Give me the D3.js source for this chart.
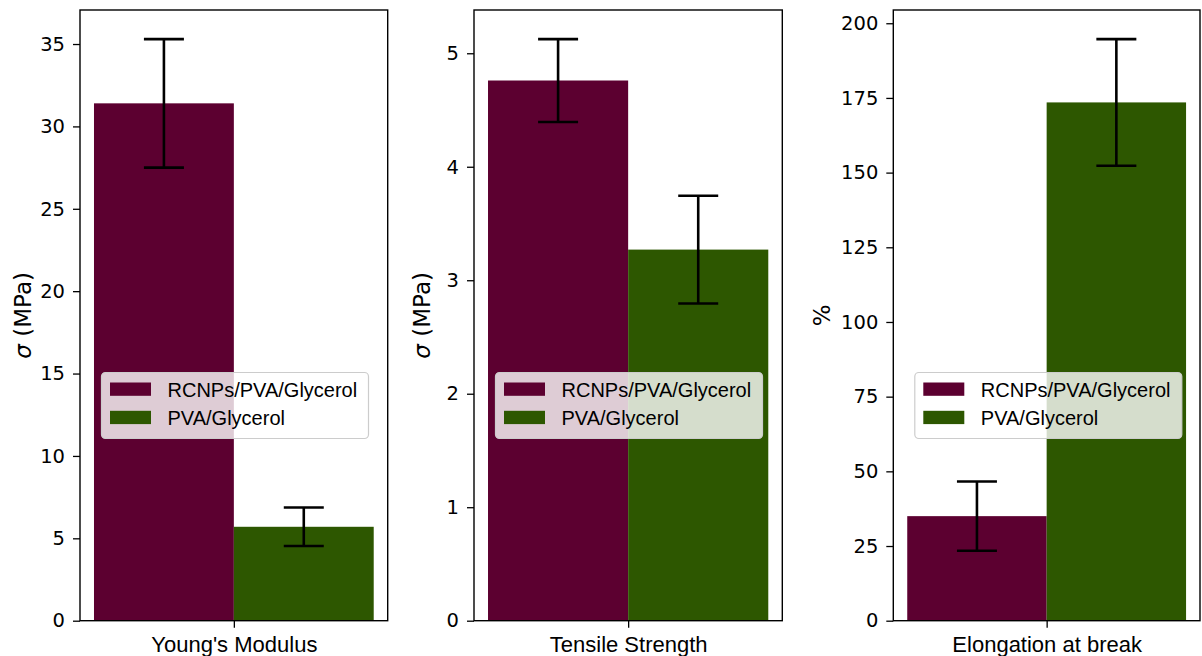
<!DOCTYPE html>
<html>
<head>
<meta charset="utf-8">
<script src="https://cdn.jsdelivr.net/npm/d3@7"></script>
<style>
html,body{margin:0;padding:0;background:#fff;}
svg{display:block;}
</style>
</head>
<body>
<svg id="chart" width="1202" height="656"></svg>
<script>
// ---- data ----
const series = ["RCNPs/PVA/Glycerol", "PVA/Glycerol"];
const colors = ["#5c0030", "#2d5700"];
const categories = ["Young's Modulus", "Tensile Strength", "Elongation at break"];
const yLabels = ["σ (MPa)", "σ (MPa)", "%"];
const youngValues = [31.4, 5.7];
const youngErrors = [3.9, 1.17];
const tensileValues = [4.76, 3.27];
const tensileErrors = [0.365, 0.475];
const elongValues = [35.0, 173.5];
const elongErrors = [11.6, 21.2];
const youngTicks = [0, 5, 10, 15, 20, 25, 30, 35];
const tensileTicks = [0, 1, 2, 3, 4, 5];
const elongTicks = [0, 25, 50, 75, 100, 125, 150, 175, 200];

const panels = [
  {values: youngValues, errors: youngErrors, ticks: youngTicks, left: 80, right: 387.7},
  {values: tensileValues, errors: tensileErrors, ticks: tensileTicks, left: 474, right: 782.3},
  {values: elongValues, errors: elongErrors, ticks: elongTicks, left: 893.3, right: 1200}
];
const plotTop = 10, plotBottom = 620.7;

const svg = d3.select("#chart");

panels.forEach((p, i) => {
  const g = svg.append("g");
  const ymax = d3.max(p.values.map((v, j) => v + p.errors[j])) * 1.05;
  const y = d3.scaleLinear().domain([0, ymax]).range([plotBottom, plotTop]);
  const x = d3.scaleBand().domain(series).range([p.left, p.right]).paddingInner(0).paddingOuter(0.1);

  // bars
  g.selectAll("rect.bar").data(series).enter().append("rect")
    .attr("class", "bar")
    .attr("x", d => x(d))
    .attr("width", x.bandwidth())
    .attr("y", (d, j) => y(p.values[j]))
    .attr("height", (d, j) => y(0) - y(p.values[j]))
    .attr("fill", (d, j) => colors[j]);

  // error bars
  const cap = 20;
  series.forEach((s, j) => {
    const cx = x(s) + x.bandwidth() / 2;
    const y1 = y(p.values[j] + p.errors[j]);
    const y0 = y(p.values[j] - p.errors[j]);
    const eg = g.append("g").attr("stroke", "#000").attr("stroke-width", 2.6);
    eg.append("line").attr("x1", cx).attr("x2", cx).attr("y1", y0).attr("y2", y1);
    eg.append("line").attr("x1", cx - cap).attr("x2", cx + cap).attr("y1", y1).attr("y2", y1);
    eg.append("line").attr("x1", cx - cap).attr("x2", cx + cap).attr("y1", y0).attr("y2", y0);
  });

  // y axis
  const ya = d3.axisLeft(y).tickValues(p.ticks).tickSize(7).tickPadding(8).tickFormat(d3.format("d"));
  const yg = g.append("g").attr("transform", `translate(${p.left},0)`).call(ya);
  yg.select(".domain").remove();
  yg.selectAll(".tick line").attr("stroke", "#000").attr("stroke-width", 1.3);
  yg.selectAll(".tick text").attr("font-family", "DejaVu Sans").attr("font-size", 19.5).attr("fill", "#000");

  // x axis (single centred category tick)
  const xc = d3.scalePoint().domain([categories[i]]).range([(p.left + p.right) / 2, (p.left + p.right) / 2]);
  const xa = d3.axisBottom(xc).tickSize(7).tickPadding(8);
  const xg = g.append("g").attr("transform", `translate(0,${plotBottom})`).call(xa);
  xg.select(".domain").remove();
  xg.selectAll(".tick line").attr("stroke", "#000").attr("stroke-width", 1.3);
  xg.selectAll(".tick text").attr("font-family", "Liberation Sans").attr("font-size", 22).attr("fill", "#000")
    .attr("dy", null).attr("y", 31);

  // frame
  g.append("rect").attr("x", p.left).attr("y", plotTop).attr("width", p.right - p.left).attr("height", plotBottom - plotTop)
    .attr("fill", "none").attr("stroke", "#000").attr("stroke-width", 1.4);

  // y label
  const lx = i === 0 ? 23 : (i === 1 ? 422 : 822);
  g.append("text")
    .attr("transform", `translate(${lx},${(plotTop + plotBottom) / 2}) rotate(-90)`)
    .attr("text-anchor", "middle").attr("dominant-baseline", "central")
    .attr("font-family", "DejaVu Sans").attr("font-size", 23).attr("fill", "#000")
    .call(t => {
      if (yLabels[i].startsWith("σ")) {
        t.append("tspan").attr("font-style", "italic").text("σ");
        t.append("tspan").text(yLabels[i].slice(1));
      } else {
        t.text(yLabels[i]);
      }
    });

  // legend
  const lgx = p.left + 21.5, lgy = 372.5;
  const lg = g.append("g");
  lg.append("rect").attr("x", lgx).attr("y", lgy).attr("width", 267).attr("height", 66)
    .attr("rx", 4).attr("fill", "rgba(255,255,255,0.8)").attr("stroke", "#cccccc").attr("stroke-width", 1.2);
  series.forEach((s, j) => {
    lg.append("rect").attr("x", lgx + 8.5).attr("y", lgy + 10 + j * 28.3).attr("width", 41).attr("height", 13.3)
      .attr("fill", colors[j]);
    lg.append("text").attr("x", lgx + 66).attr("y", lgy + 24 + j * 28.3)
      .attr("font-family", "Liberation Sans").attr("font-size", 20).attr("fill", "#000").text(s);
  });
});
</script>
</body>
</html>
